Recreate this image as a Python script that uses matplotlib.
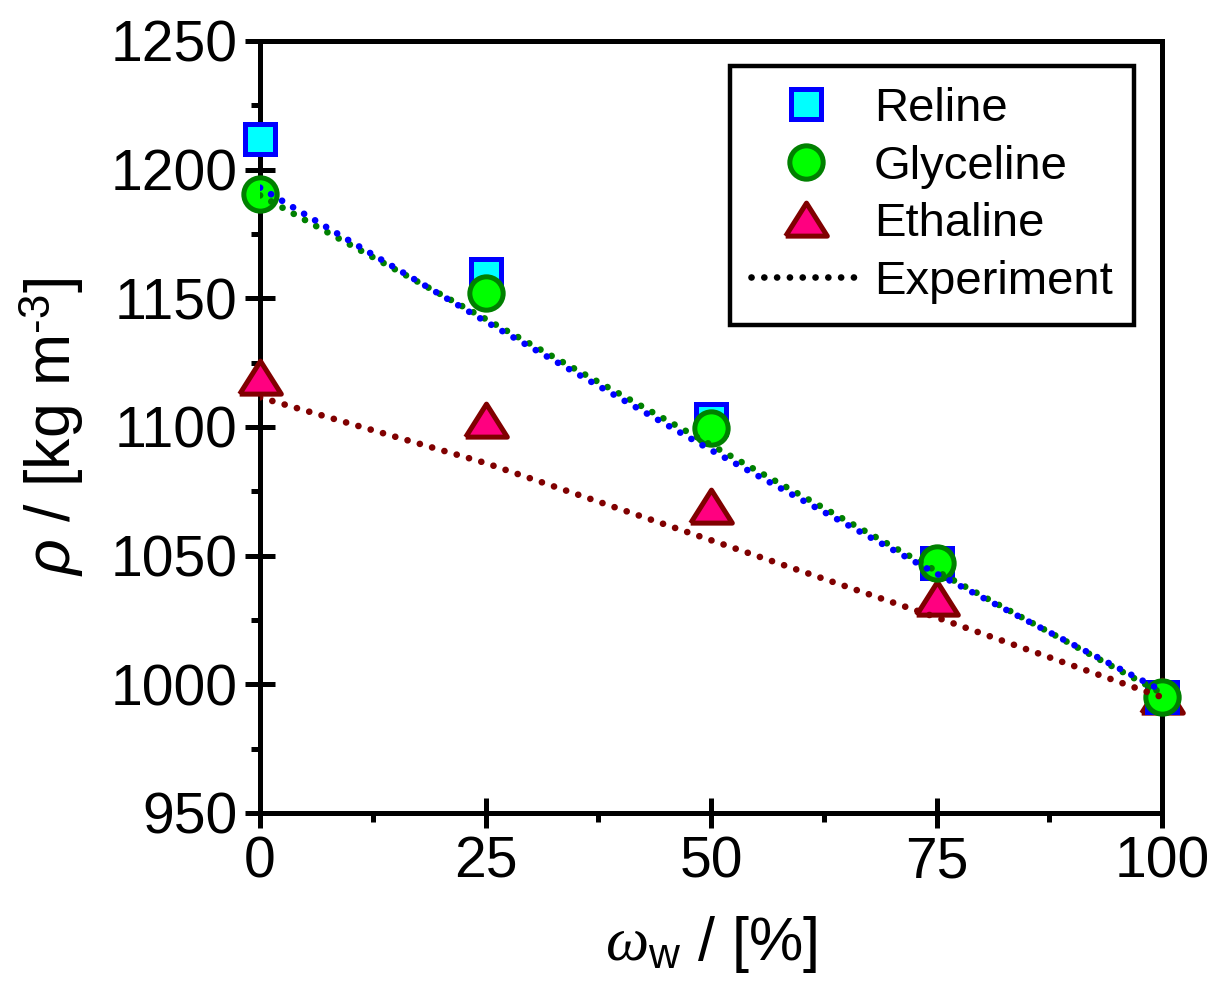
import matplotlib
matplotlib.use("Agg")
import matplotlib.pyplot as plt
from matplotlib.ticker import MultipleLocator

plt.rcParams['font.family'] = ['Liberation Sans', 'DejaVu Sans']
plt.rcParams['mathtext.fontset'] = 'custom'
plt.rcParams['mathtext.rm'] = 'Liberation Sans'
plt.rcParams['mathtext.it'] = 'Liberation Serif:italic'
plt.rcParams['mathtext.sf'] = 'Liberation Sans:italic'
plt.rcParams['mathtext.bf'] = 'Liberation Sans:bold'

# ---- data ----
water = [0, 25, 50, 75, 100]
reline = [1212, 1159.5, 1103, 1047, 995]
glyceline = [1190.5, 1152, 1099.5, 1047, 995]
ethaline = [1119, 1102.5, 1069, 1033, 995]

exp_water = [0, 25, 50, 75, 100]
exp_reline = [1193, 1141, 1091, 1043, 997.5]
exp_glyceline = [1190, 1142, 1093, 1044, 996.5]
exp_ethaline = [1111.5, 1086, 1056, 1026, 995]

xticks = [0, 25, 50, 75, 100]
yticks = [950, 1000, 1050, 1100, 1150, 1200, 1250]

fig = plt.figure(figsize=(12.14, 9.9), dpi=100)
ax = fig.add_axes([0.2142, 0.1788, 0.7430, 0.7798])

tri = [(-1.2, -0.9), (1.2, -0.9), (0.0, 1.0), (-1.2, -0.9)]

h_eth, = ax.plot(water, ethaline, linestyle='none', marker=tri, ms=30, mfc='#FF0080',
                 mec='#800000', mew=3.6, clip_on=False, zorder=3, label='Ethaline')
h_rel, = ax.plot(water, reline, linestyle='none', marker='s', ms=21, mfc='#00FFFF',
                 mec='#0000FF', mew=3.6, clip_on=False, zorder=3, label='Reline')
h_gly, = ax.plot(water, glyceline, linestyle='none', marker='o', ms=24, mfc='#00FF00',
                 mec='#008000', mew=3.6, clip_on=False, zorder=3, label='Glyceline')

LW = 4.8
dot = (0, (0.01, 1.91))
ax.plot(exp_water, exp_glyceline, color='#008000', lw=LW, linestyle=dot,
        dash_capstyle='round', zorder=4)
ax.plot(exp_water, exp_reline, color='#0000FF', lw=LW, linestyle=dot,
        dash_capstyle='round', zorder=4)
ax.plot(exp_water, exp_ethaline, color='#800000', lw=LW, linestyle=dot,
        dash_capstyle='round', zorder=4)
h_exp, = ax.plot([], [], color='black', lw=LW, linestyle=dot, dash_capstyle='round',
                 label='Experiment')

ax.set_xlim(0, 100)
ax.set_ylim(950, 1250)
ax.set_xticks(xticks)
ax.set_yticks(yticks)
ax.xaxis.set_minor_locator(MultipleLocator(12.5))
ax.yaxis.set_minor_locator(MultipleLocator(25))

for s in ax.spines.values():
    s.set_linewidth(3.6)
ax.tick_params(which='major', direction='inout', length=22, width=3.6,
               labelsize=41, pad=5)
ax.tick_params(which='minor', direction='out', length=6.5, width=3.6)
ax.tick_params(top=False, right=False, which='both')

ax.set_xlabel(r'$\mathit{\omega}_{\mathrm{w}}$ / [%]', fontsize=44, labelpad=18)
ax.set_ylabel(r'$\mathsf{\rho}$ / [kg m$^{\text{-3}}$]', fontsize=45, labelpad=18)

leg = ax.legend(handles=[h_rel, h_gly, h_eth, h_exp],
                loc='upper right', bbox_to_anchor=(0.969, 0.968), fontsize=34,
                frameon=True, fancybox=False, edgecolor='black', framealpha=1,
                handlelength=2.3, handletextpad=0.3, labelspacing=0.29,
                borderpad=0.45, borderaxespad=0)
leg.get_frame().set_linewidth(3.2)

fig.savefig('out.png', dpi=100)
